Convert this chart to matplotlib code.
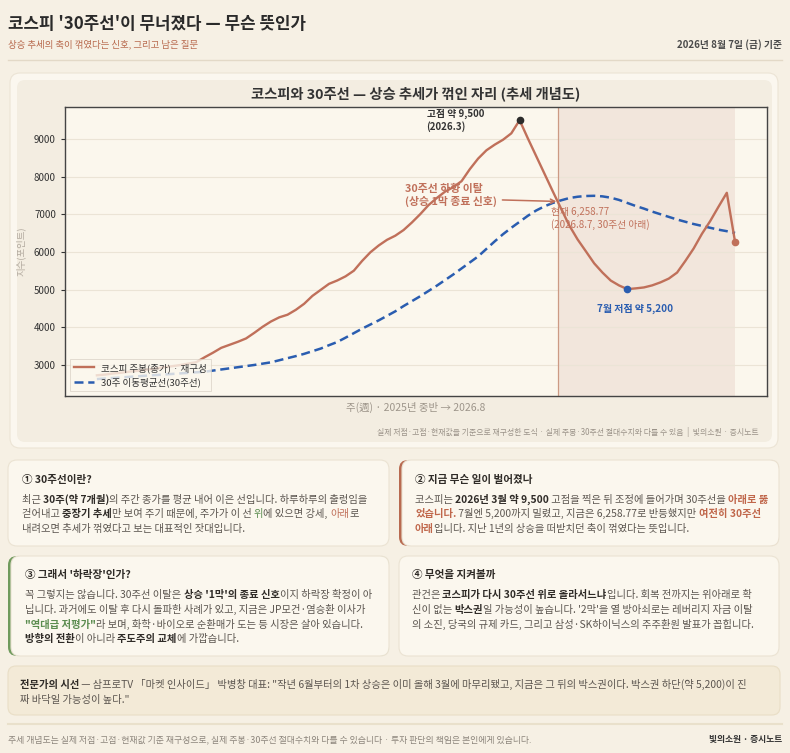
import matplotlib
matplotlib.use('Agg')
import matplotlib.pyplot as plt
from matplotlib.patches import FancyBboxPatch
from matplotlib.transforms import Affine2D
from matplotlib.font_manager import FontProperties
from matplotlib.lines import Line2D

FONT = ['Noto Sans CJK KR', 'DejaVu Sans']
plt.rcParams['font.family'] = FONT

W, H = 790, 753

# weekly close (reconstructed) and 30-week line
kospi = [2720, 2740, 2770, 2790, 2820, 2840, 2870, 2900, 2930, 2960,
         2990, 3030, 3070, 3200, 3320, 3450, 3530, 3610, 3700, 3850,
         4010, 4150, 4260, 4330, 4460, 4620, 4830, 4990, 5150, 5240,
         5350, 5500, 5760, 5990, 6170, 6320, 6430, 6580, 6780, 7000,
         7240, 7430, 7600, 7720, 7880, 8200, 8480, 8700, 8850, 8980,
         9150, 9500, 9014, 8546, 8078, 7610, 7150, 6700, 6330, 6014,
         5695, 5450, 5237, 5108, 5010, 5030, 5055, 5110, 5190, 5290,
         5450, 5760, 6090, 6480, 6820, 7200, 7570, 6258.77]
ma30 = [2620, 2635, 2650, 2665, 2680, 2695, 2710, 2725, 2740, 2755,
        2770, 2785, 2800, 2815, 2845, 2875, 2905, 2935, 2965, 2995,
        3030, 3065, 3120, 3175, 3230, 3290, 3360, 3430, 3520, 3605,
        3720, 3840, 3960, 4070, 4180, 4300, 4420, 4560, 4690, 4820,
        4960, 5100, 5250, 5400, 5560, 5720, 5880, 6080, 6280, 6470,
        6640, 6800, 6960, 7100, 7210, 7300, 7370, 7430, 7465, 7485,
        7490, 7475, 7440, 7380, 7300, 7220, 7150, 7070, 7000, 6930,
        6860, 6800, 6740, 6690, 6640, 6590, 6550, 6503]
weeks = list(range(len(kospi)))
peak_week = 51
trough_week = 64
last_week = 77
cross_week = 55.6
cross_value = 7340
yticks = [3000, 4000, 5000, 6000, 7000, 8000, 9000]

RED = '#c0705a'
BLUE = '#2a5db0'
DARK = '#2f2b27'
BODY = '#5b554f'
GREEN = '#5b8c4f'
BODY_SIZE = 7.4

fig = plt.figure(figsize=(W / 100, H / 100), dpi=100)
fig.patch.set_facecolor('#f6f0e4')
PX = Affine2D().scale(1 / W, -1 / H).translate(0, 1) + fig.transFigure


def box(x0, y0, x1, y1, face, edge='none', r=8, z=-2, lw=0.8):
    p = FancyBboxPatch((x0, y0), x1 - x0, y1 - y0,
                       boxstyle=f"round,pad=0,rounding_size={r}",
                       transform=PX, facecolor=face, edgecolor=edge,
                       linewidth=lw, zorder=z)
    fig.add_artist(p)


def card(x0, y0, x1, y1, accent=None):
    if accent:
        box(x0, y0, x1, y1, accent, r=9)
        x0 += 3
    box(x0, y0, x1, y1, '#fbf7ee', '#ebe3d3', r=9)


def hline(y, x0, x1, color, lw):
    fig.add_artist(Line2D([x0, x1], [y, y], transform=PX, color=color, lw=lw))


renderer = fig.canvas.get_renderer()


def text_w(s, size, weight):
    prop = FontProperties(family=FONT, size=size, weight=weight)
    w1 = renderer.get_text_width_height_descent('|' + s + '|', prop, ismath=False)[0]
    w0 = renderer.get_text_width_height_descent('||', prop, ismath=False)[0]
    return w1 - w0


STYLES = {'n': (BODY, 'normal'), 'b': (DARK, 'bold'), 'r': (RED, 'normal'),
          'rb': ('#c0674b', 'bold'), 'g': (GREEN, 'normal'), 'gb': (GREEN, 'bold')}


def rich(x, y, parts, size=BODY_SIZE):
    base = y + size * 1.389 * 0.36
    for s, st in parts:
        color, weight = STYLES[st]
        fig.text(x, base, s, transform=PX, fontsize=size, color=color,
                 fontweight=weight, va='baseline', ha='left')
        x += text_w(s, size, weight)


# header
fig.text(8, 24, "코스피 '30주선'이 무너졌다 — 무슨 뜻인가", transform=PX,
         fontsize=12.1, fontweight='bold', color='#2a2a2a', va='center')
fig.text(8, 44.5, "상승 추세의 축이 꺾였다는 신호, 그리고 남은 질문", transform=PX,
         fontsize=6.8, color='#b86a4e', va='center')
fig.text(782, 44.5, "2026년 8월 7일 (금) 기준", transform=PX, fontsize=7,
         fontweight='bold', color='#4a4a4a', va='center', ha='right')
hline(60, 8, 782, '#e3d9c7', 1.0)

# chart card
box(10, 73, 778, 448, '#fbf7ef', '#ece4d5', r=10, z=-3)
box(17, 80, 772, 442, '#f3ede1', r=8, z=-2)

ax = fig.add_axes([65 / W, 1 - 396 / H, (767 - 65) / W, (396 - 107) / H])
ax.set_facecolor('#fbf7ed')
ax.axvspan(cross_week, last_week, color='#f2e6dc', zorder=0, lw=0)
ax.axvline(cross_week, color='#cc9a84', lw=0.9, zorder=1)
ax.plot(weeks, ma30, color=BLUE, lw=1.8, ls='--', dashes=(3.6, 1.9), zorder=2,
        label='30주 이동평균선(30주선)')
ax.plot(weeks, kospi, color=RED, lw=1.7, zorder=3, label='코스피 주봉(종가) · 재구성')
ax.plot(peak_week, kospi[peak_week], 'o', color='#2b2b2b', ms=4.5, zorder=4)
ax.plot(trough_week, kospi[trough_week], 'o', color=BLUE, ms=4.5, zorder=4)
ax.plot(last_week, kospi[last_week], 'o', color=RED, ms=4.5, zorder=4)

ax.set_ylim(2170, 9850)
ax.set_yticks(yticks)
ax.set_xticks([])
ax.tick_params(axis='y', labelsize=7, colors='#333333', length=3, width=0.8)
ax.yaxis.grid(True, color='#ebe4d6', lw=0.8)
ax.set_axisbelow(True)
for sp in ax.spines.values():
    sp.set_color('#444444')
    sp.set_linewidth(1.0)
ax.set_title('코스피와 30주선 — 상승 추세가 꺾인 자리 (추세 개념도)', fontsize=10.3,
             fontweight='bold', color='#333333', pad=6)
ax.set_ylabel('지수(포인트)', fontsize=6.8, color='#b3aba0', labelpad=6)
ax.set_xlabel('주(週) · 2025년 중반 → 2026.8', fontsize=7.5, color='#9d958a', labelpad=4)

handles, labels = ax.get_legend_handles_labels()
leg = ax.legend(handles[::-1], labels[::-1], loc='lower left', fontsize=6.9,
                frameon=True, facecolor='#fbf7ed', edgecolor='#d8d0c4',
                framealpha=0.8, handlelength=2.1, fancybox=False)
leg.get_frame().set_linewidth(0.6)
for t in leg.get_texts():
    t.set_color('#333333')

ax.annotate('고점 약 9,500\n(2026.3)', xy=(peak_week, kospi[peak_week]),
            xytext=(-67, 0), textcoords='offset points', ha='left', va='center',
            fontsize=7, fontweight='bold', color='#333333', linespacing=1.2)
ax.annotate('30주선 하향 이탈\n(상승 1막 종료 신호)', xy=(cross_week, cross_value),
            xytext=(-110, 4.5), textcoords='offset points', ha='left', va='center',
            fontsize=7.8, fontweight='bold', color=RED, linespacing=1.2,
            arrowprops=dict(arrowstyle='->', color=RED, lw=1.1, relpos=(1.0, 0.3),
                            shrinkA=2, shrinkB=1))
ax.annotate('현재 6,258.77\n(2026.8.7, 30주선 아래)', xy=(cross_week, cross_value),
            xytext=(-4.5, -12.5), textcoords='offset points', ha='left', va='center',
            fontsize=7, color=RED, linespacing=1.2)
ax.annotate('7월 저점 약 5,200', xy=(trough_week, kospi[trough_week]),
            xytext=(5.5, -14.5), textcoords='offset points', ha='center', va='center',
            fontsize=7.2, fontweight='bold', color=BLUE)

fig.text(759, 431.7, '실제 저점·고점·현재값을 기준으로 재구성한 도식 · 실제 주봉·30주선 절대수치와 다를 수 있음  |  빛의소원 · 증시노트',
         transform=PX, fontsize=5.7, color='#9a9288', va='center', ha='right')

# explanation cards
card(8, 460, 389, 546)
card(399, 460, 779, 546, accent='#b86a50')
card(8, 556, 389, 656, accent='#6f9a5c')
card(399, 556, 779, 656)

rich(21.7, 479, [('① 30주선이란?', 'b')], 7.6)
rich(21.7, 499, [('최근 ', 'n'), ('30주(약 7개월)', 'b'),
                 ('의 주간 종가를 평균 내어 이은 선입니다. 하루하루의 출렁임을', 'n')])
rich(21.7, 513.7, [('걷어내고 ', 'n'), ('중장기 추세', 'b'), ('만 보여 주기 때문에, 주가가 이 선 ', 'n'),
                   ('위', 'g'), ('에 있으면 강세, ', 'n'), ('아래', 'r'), ('로', 'n')])
rich(21.7, 528, [('내려오면 추세가 꺾였다고 보는 대표적인 잣대입니다.', 'n')])

rich(415, 479, [('② 지금 무슨 일이 벌어졌나', 'b')], 7.6)
rich(415, 499, [('코스피는 ', 'n'), ('2026년 3월 약 9,500', 'b'),
                (' 고점을 찍은 뒤 조정에 들어가며 30주선을 ', 'n'), ('아래로 뚫', 'rb')])
rich(415, 513.7, [('었습니다.', 'rb'), (' 7월엔 5,200까지 밀렸고, 지금은 6,258.77로 반등했지만 ', 'n'),
                  ('여전히 30주선', 'rb')])
rich(415, 528, [('아래', 'rb'), ('입니다. 지난 1년의 상승을 떠받치던 축이 꺾였다는 뜻입니다.', 'n')])

rich(25, 574, [("③ 그래서 '하락장'인가?", 'b')], 7.6)
rich(25, 594, [('꼭 그렇지는 않습니다. 30주선 이탈은 ', 'n'), ("상승 '1막'의 종료 신호", 'b'),
               ('이지 하락장 확정이 아', 'n')])
rich(25, 609, [('닙니다. 과거에도 이탈 후 다시 돌파한 사례가 있고, 지금은 JP모건·염승환 이사가', 'n')])
rich(25, 624, [('"역대급 저평가"', 'gb'), ('라 보며, 화학·바이오로 순환매가 도는 등 시장은 살아 있습니다.', 'n')])
rich(25, 638.5, [('방향의 전환', 'b'), ('이 아니라 ', 'n'), ('주도주의 교체', 'b'), ('에 가깝습니다.', 'n')])

rich(411.7, 574, [('④ 무엇을 지켜볼까', 'b')], 7.6)
rich(411.7, 594, [('관건은 ', 'n'), ('코스피가 다시 30주선 위로 올라서느냐', 'b'),
                  ('입니다. 회복 전까지는 위아래로 확', 'n')])
rich(411.7, 609, [('신이 없는 ', 'n'), ('박스권', 'b'),
                  ("일 가능성이 높습니다. '2막'을 열 방아쇠로는 레버리지 자금 이탈", 'n')])
rich(411.7, 624, [('의 소진, 당국의 규제 카드, 그리고 삼성·SK하이닉스의 주주환원 발표가 꼽힙니다.', 'n')])

# expert quote
box(8, 666, 780, 715, '#f3ead7', '#e9dec6', r=8)
rich(20, 684, [('전문가의 시선', 'b'),
               (' — 삼프로TV 「마켓 인사이드」 박병창 대표: "작년 6월부터의 1차 상승은 이미 올해 3월에 마무리됐고, 지금은 그 뒤의 박스권이다. 박스권 하단(약 5,200)이 진', 'n')])
rich(20, 699, [('짜 바닥일 가능성이 높다."', 'n')])

# footer
hline(724, 8, 782, '#e9e0cb', 1.5)
fig.text(8, 740, '추세 개념도는 실제 저점·고점·현재값 기준 재구성으로, 실제 주봉·30주선 절대수치와 다를 수 있습니다 · 투자 판단의 책임은 본인에게 있습니다.',
         transform=PX, fontsize=6.4, color='#8c857c', va='center')
fig.text(782, 740, '빛의소원 · 증시노트', transform=PX, fontsize=6.3, fontweight='bold',
         color='#333333', va='center', ha='right')

fig.savefig('out.png', dpi=100, facecolor=fig.get_facecolor())
